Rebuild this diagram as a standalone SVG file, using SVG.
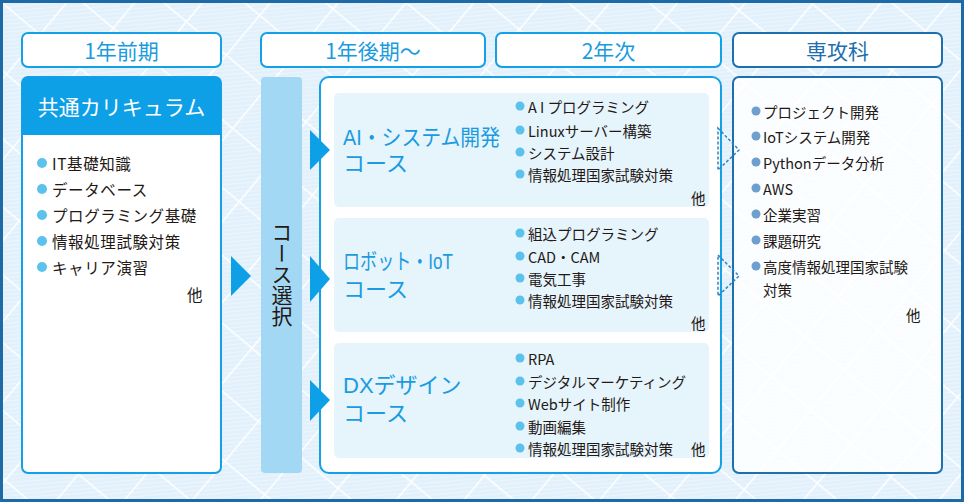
<svg xmlns="http://www.w3.org/2000/svg" width="964" height="502" viewBox="0 0 964 502">
<defs>
<pattern id="fine" width="4" height="4" patternUnits="userSpaceOnUse" patternTransform="rotate(45)">
<rect width="4" height="4" fill="#e1f0fb"/>
<line x1="0" y1="0" x2="0" y2="4" stroke="#f3f9fe" stroke-width="1.5"/>
</pattern>
<pattern id="lat" width="52" height="52" patternUnits="userSpaceOnUse" patternTransform="rotate(40)">
<rect width="52" height="52" fill="url(#fine)"/>
<line x1="0" y1="0" x2="52" y2="0" stroke="#ffffff" stroke-width="3"/>
<line x1="0" y1="0" x2="0" y2="52" stroke="#ffffff" stroke-width="3"/>
</pattern>
</defs>
<style>
text{font-family:"Noto Sans CJK JP","Noto Sans",sans-serif;}
.hbox{fill:#fff;stroke:#14a0e6;stroke-width:2;}
.htxt{fill:#1a9be0;font-size:21px;text-anchor:middle;dominant-baseline:central;}
.item{fill:#231815;font-size:14.5px;dominant-baseline:central;}
.litem{fill:#231815;font-size:15.5px;dominant-baseline:central;letter-spacing:0.6px;}
.dot{fill:#5bc2ee;}
.dot2{fill:#6f9fcf;}
.tri{fill:#0ea0e6;}
.sub{fill:#e6f4fc;}
.ctitle{fill:#1a9be0;font-size:22px;font-family:"Liberation Sans","Noto Sans CJK JP",sans-serif;}
.dash{fill:none;stroke:#2a84c6;stroke-width:1.5;stroke-dasharray:3 2;}
</style>
<rect x="0" y="0" width="964" height="502" fill="url(#lat)"/>
<rect x="1.5" y="1.5" width="961" height="499" fill="none" stroke="#1d6aa6" stroke-width="3"/>

<g id="hdr1"><rect class="hbox" x="22" y="33" width="199" height="34" rx="6"/><text class="htxt" x="121.5" y="50">1年前期</text></g>
<g id="hdr2"><rect class="hbox" x="261" y="33" width="224" height="34" rx="6"/><text class="htxt" x="373" y="50">1年後期〜</text></g>
<g id="hdr3"><rect class="hbox" x="496" y="33" width="225" height="34" rx="6"/><text class="htxt" x="608.5" y="50">2年次</text></g>
<g id="hdr4"><rect x="733" y="33" width="209" height="34" rx="6" fill="#fff" stroke="#1d6fae" stroke-width="2"/><text class="htxt" x="837.5" y="50" style="fill:#1d6fae">専攻科</text></g>

<g id="common">
<rect x="22" y="77" width="199" height="396" rx="6" fill="#fff" stroke="#14a0e6" stroke-width="2"/>
<path d="M22 83 a6 6 0 0 1 6 -6 h187 a6 6 0 0 1 6 6 v52 h-199 z" fill="#0ea0e6"/>
<text x="121.5" y="106" fill="#fff" font-size="21" text-anchor="middle" dominant-baseline="central">共通カリキュラム</text>
<circle class="dot" cx="42" cy="163" r="5"/><text class="litem" x="52" y="163">IT基礎知識</text>
<circle class="dot" cx="42" cy="189" r="5"/><text class="litem" x="52" y="189">データベース</text>
<circle class="dot" cx="42" cy="215" r="5"/><text class="litem" x="52" y="215">プログラミング基礎</text>
<circle class="dot" cx="42" cy="241" r="5"/><text class="litem" x="52" y="241">情報処理試験対策</text>
<circle class="dot" cx="42" cy="267" r="5"/><text class="litem" x="52" y="267">キャリア演習</text>
<text class="litem" x="187" y="294">他</text>
</g>

<g id="select">
<rect x="261" y="77" width="41" height="396" rx="4" fill="#a3d8f4"/>
<text x="282" y="222" fill="#231815" font-size="21" style="writing-mode:vertical-rl;" text-anchor="start">コース選択</text>
</g>

<g id="year2">
<rect x="320" y="77" width="401" height="396" rx="9" fill="#fff" stroke="#14a0e6" stroke-width="2"/>
</g>

<g id="course-ai">
<rect class="sub" x="334" y="93" width="375" height="114" rx="5"/>
<text class="ctitle"><tspan x="343" y="145" textLength="157" lengthAdjust="spacingAndGlyphs">AI・システム開発</tspan><tspan x="343" y="171">コース</tspan></text>
<circle class="dot" cx="520" cy="106" r="4.5"/><text class="item" x="528" y="106">A I プログラミング</text>
<circle class="dot" cx="520" cy="130" r="4.5"/><text class="item" x="528" y="130">Linuxサーバー構築</text>
<circle class="dot" cx="520" cy="152" r="4.5"/><text class="item" x="528" y="152">システム設計</text>
<circle class="dot" cx="520" cy="174" r="4.5"/><text class="item" x="528" y="174">情報処理国家試験対策</text>
<text class="item" x="691" y="197">他</text>
</g>

<g id="course-robot">
<rect class="sub" x="334" y="218" width="375" height="114" rx="5"/>
<text class="ctitle"><tspan x="343" y="269" textLength="110" lengthAdjust="spacingAndGlyphs">ロボット・IoT</tspan><tspan x="343" y="297">コース</tspan></text>
<circle class="dot" cx="520" cy="233" r="4.5"/><text class="item" x="528" y="233">組込プログラミング</text>
<circle class="dot" cx="520" cy="256" r="4.5"/><text class="item" x="528" y="256">CAD・CAM</text>
<circle class="dot" cx="520" cy="278" r="4.5"/><text class="item" x="528" y="278">電気工事</text>
<circle class="dot" cx="520" cy="300" r="4.5"/><text class="item" x="528" y="300">情報処理国家試験対策</text>
<text class="item" x="691" y="322">他</text>
</g>

<g id="course-dx">
<rect class="sub" x="334" y="343" width="375" height="115" rx="5"/>
<text class="ctitle"><tspan x="343" y="393">DXデザイン</tspan><tspan x="343" y="421">コース</tspan></text>
<circle class="dot" cx="520" cy="358" r="4.5"/><text class="item" x="528" y="358">RPA</text>
<circle class="dot" cx="520" cy="381" r="4.5"/><text class="item" x="528" y="381">デジタルマーケティング</text>
<circle class="dot" cx="520" cy="403" r="4.5"/><text class="item" x="528" y="403">Webサイト制作</text>
<circle class="dot" cx="520" cy="426" r="4.5"/><text class="item" x="528" y="426">動画編集</text>
<circle class="dot" cx="520" cy="448" r="4.5"/><text class="item" x="528" y="448">情報処理国家試験対策</text>
<text class="item" x="691" y="448">他</text>
</g>

<g id="senko">
<rect x="733" y="77" width="209" height="396" rx="6" fill="#fff" fill-opacity="0.82" stroke="#1d6fae" stroke-width="2"/>
<circle class="dot2" cx="756" cy="111" r="4.5"/><text class="item" x="763" y="111">プロジェクト開発</text>
<circle class="dot2" cx="756" cy="136" r="4.5"/><text class="item" x="763" y="136">IoTシステム開発</text>
<circle class="dot2" cx="756" cy="162" r="4.5"/><text class="item" x="763" y="162">Pythonデータ分析</text>
<circle class="dot2" cx="756" cy="188" r="4.5"/><text class="item" x="763" y="188">AWS</text>
<circle class="dot2" cx="756" cy="214" r="4.5"/><text class="item" x="763" y="214">企業実習</text>
<circle class="dot2" cx="756" cy="240" r="4.5"/><text class="item" x="763" y="240">課題研究</text>
<circle class="dot2" cx="756" cy="266" r="4.5"/><text class="item" x="763" y="266">高度情報処理国家試験</text>
<text class="item" x="763" y="289">対策</text>
<text class="item" x="906" y="314">他</text>
</g>

<g id="connectors">
<polygon class="tri" points="231,256 251,276 231,296"/>
<polygon class="tri" points="310,130 330,150 310,170"/>
<polygon class="tri" points="310,256 330,279 310,302"/>
<polygon class="tri" points="310,380 330,400 310,421"/>
<polygon class="dash" points="718,128 739,150 718,170"/>
<polygon class="dash" points="718,255 739,276 718,296"/>
</g>
</svg>
